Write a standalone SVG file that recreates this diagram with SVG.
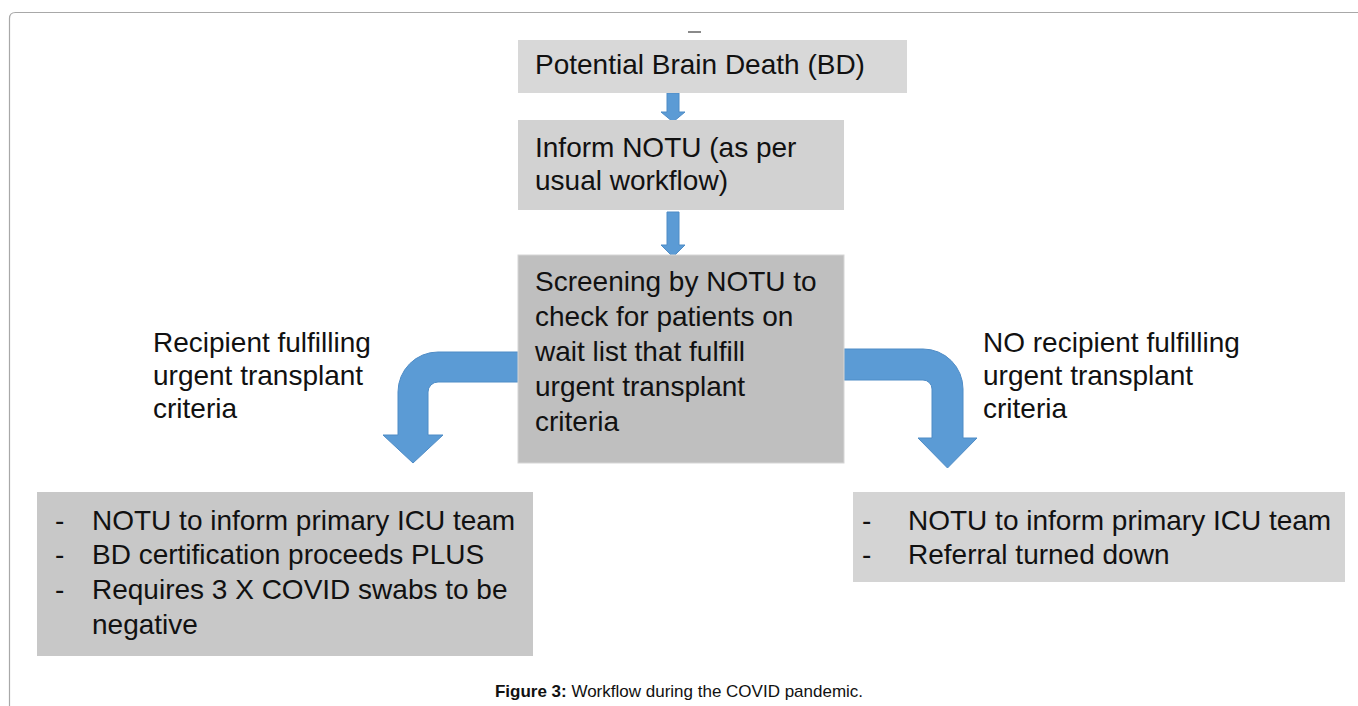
<svg xmlns="http://www.w3.org/2000/svg" width="1358" height="706" viewBox="0 0 1358 706">
<style>
.t{font-family:"Liberation Sans",Arial,sans-serif;font-size:28px;fill:#111}
.cap{font-family:"Liberation Sans",Arial,sans-serif;font-size:17px;fill:#111}
.arr{fill:#5b9bd5;stroke:#4f8cc6;stroke-width:1}
.frame{fill:none;stroke:#a8a8a8;stroke-width:1.2}
</style>
<rect width="1358" height="706" fill="#fff"/>
<path class="frame" d="M9.5,706 V18.5 Q9.5,12.5 15.5,12.5 H1358"/>
<line x1="688" y1="32" x2="701" y2="32" stroke="#8a8a8a" stroke-width="2"/>
<g id="connectors">
<path class="arr" d="M667,93 H679 V112 H685 L673,122 L661,112 H667 Z"/>
<path class="arr" d="M667,212 H679 V245 H685 L673,257 L661,245 H667 Z"/>
<path class="arr" d="M519,352 H438 A40,40 0 0 0 398,392 V435 H383 L413,463 L443,435 H428 V392 A10,10 0 0 1 438,382 H519 Z"/>
<path class="arr" d="M843,349 H923 A40,40 0 0 1 963,389 V438 H977 L947.5,468 L918,438 H932 V389 A9,9 0 0 0 923,380 H843 Z"/>
</g>
<g id="node-bd">
<rect x="518" y="40" width="389" height="53" fill="#d8d8d8"/>
<text class="t" x="535" y="74">Potential Brain Death (BD)</text>
</g>
<g id="node-inform">
<rect x="518" y="120" width="326" height="90" fill="#d2d2d2"/>
<text class="t" x="535" y="157">Inform NOTU (as per</text>
<text class="t" x="535" y="190">usual workflow)</text>
</g>
<g id="node-screening">
<rect x="518" y="255" width="326" height="208" fill="#bfbfbf" stroke="#d6d6d6" stroke-width="1"/>
<text class="t" x="535" y="291">Screening by NOTU to</text>
<text class="t" x="535" y="326">check for patients on</text>
<text class="t" x="535" y="361">wait list that fulfill</text>
<text class="t" x="535" y="396">urgent transplant</text>
<text class="t" x="535" y="431">criteria</text>
</g>
<g id="label-left">
<text class="t" x="153" y="352">Recipient fulfilling</text>
<text class="t" x="153" y="385">urgent transplant</text>
<text class="t" x="153" y="418">criteria</text>
</g>
<g id="label-right">
<text class="t" x="983" y="352">NO recipient fulfilling</text>
<text class="t" x="983" y="385">urgent transplant</text>
<text class="t" x="983" y="418">criteria</text>
</g>
<g id="node-urgent">
<rect x="37" y="492" width="496" height="164" fill="#c8c8c8"/>
<text class="t" x="55" y="530">-</text>
<text class="t" x="92" y="530">NOTU to inform primary ICU team</text>
<text class="t" x="55" y="564">-</text>
<text class="t" x="92" y="564">BD certification proceeds PLUS</text>
<text class="t" x="55" y="599">-</text>
<text class="t" x="92" y="599">Requires 3 X COVID swabs to be</text>
<text class="t" x="92" y="634">negative</text>
</g>
<g id="node-declined">
<rect x="853" y="492" width="492" height="90" fill="#d4d4d4"/>
<text class="t" x="862" y="530">-</text>
<text class="t" x="908" y="530">NOTU to inform primary ICU team</text>
<text class="t" x="862" y="564">-</text>
<text class="t" x="908" y="564">Referral turned down</text>
</g>
<g id="caption">
<text class="cap" x="679" y="697" text-anchor="middle"><tspan font-weight="bold">Figure 3:</tspan> Workflow during the COVID pandemic.</text>
</g>
</svg>
